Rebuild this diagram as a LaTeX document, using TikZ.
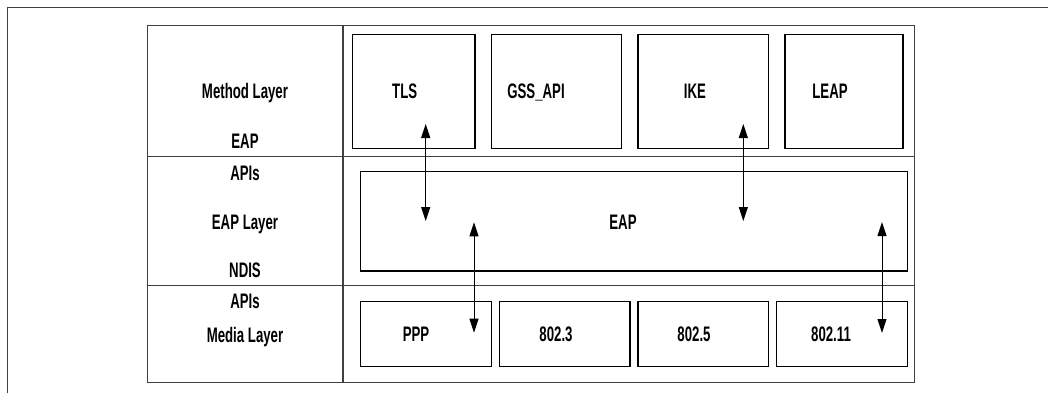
\documentclass[tikz,border=0pt]{standalone}
\usepackage{fontspec}
\setmainfont[FakeStretch=0.63]{Liberation Sans}
\usetikzlibrary{arrows.meta,positioning}

\begin{document}
\begin{tikzpicture}[x=1pt,y=-1pt,
  every node/.style={font=\fontsize{21}{22}\selectfont\bfseries},
  cell/.style={draw,line width=1.2pt,inner sep=0pt,anchor=north west},
  lbl/.style={anchor=base,inner sep=0pt},
  link/.style={{Triangle[length=14pt,width=9pt]}-{Triangle[length=14pt,width=9pt]},line width=1pt}]
  \useasboundingbox (0,0) rectangle (1048,393);
  % frame, open at right and bottom
  \draw[line width=1pt,black!75] (1048,7.3) -- (7.3,7.3) -- (7.3,393);
  % the table
  \draw[line width=1pt,black!75] (147,25.7) rectangle (342,382.7) (343.7,25.7) rectangle (914,382.7);
  \draw[line width=1pt,black!75] (147,156.3) -- (914,156.3) (147,285.5) -- (914,285.5);
  % left column
  \foreach \nm/\yb/\txt in {meth/98.3/Method Layer,eapa/148.3/EAP,apia/180/APIs,eapl/229.3/EAP Layer,
      ndis/277.3/NDIS,apib/308.3/APIs,media/342.3/Media Layer}{
    \node[lbl] (\nm) at (245,\yb) {\txt};
  }
  % method layer
  \foreach \nm/\xa/\xb/\xt/\txt in {tls/351.7/474.3/404.7/TLS,gss/490.7/621/536/GSS\_API,
      ike/637.3/767.7/695/IKE,leap/784.3/902.3/830/LEAP}{
    \node[cell,minimum width=\xb-\xa,minimum height=114] (\nm) at (\xa,33.7) {};
    \node[lbl] (\nm-t) at (\xt,99) {\txt};
  }
  % eap layer
  \node[cell,minimum width=546.7,minimum height=99.3] (eap) at (360,171) {};
  \node[lbl] (eap-t) at (623,229.3) {EAP};
  % media layer
  \foreach \nm/\xa/\xb/\xt/\txt in {ppp/360/490.7/416/PPP,ea/498.7/629.3/556/802.3,
      eb/637.3/768/694/802.5,ec/775.7/906.7/831/802.11}{
    \node[cell,minimum width=\xb-\xa,minimum height=64.7] (\nm) at (\xa,301) {};
    \node[lbl] (\nm-t) at (\xt,341.7) {\txt};
  }
  % arrow ends
  \coordinate (a1) at (425.7,124);  \coordinate (b1) at (425.7,221);
  \coordinate (a2) at (743.3,124);  \coordinate (b2) at (743.3,221);
  \coordinate (a3) at (474,222.3);  \coordinate (b3) at (474,332.7);
  \coordinate (a4) at (882,222);    \coordinate (b4) at (882,333);
  \foreach \i in {1,...,4}{
    \draw[link] (a\i) -- (b\i);
  }
\end{tikzpicture}
\end{document}
